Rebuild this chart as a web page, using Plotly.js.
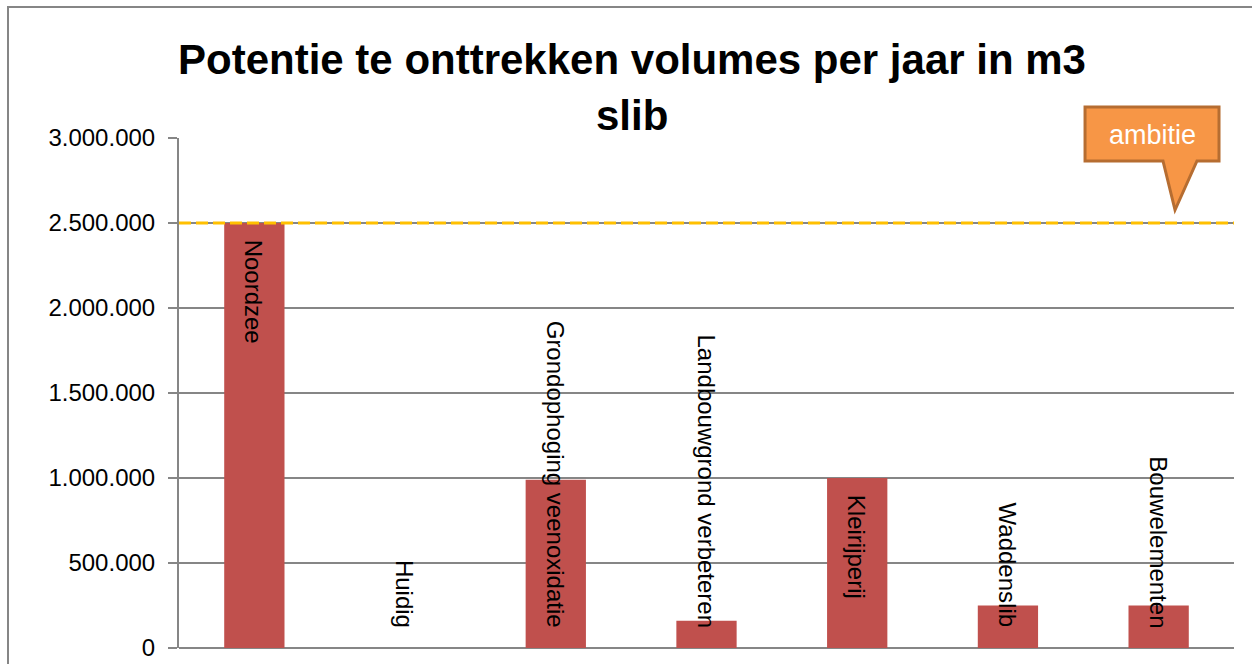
<!DOCTYPE html>
<html>
<head>
<meta charset="utf-8">
<script src="https://cdn.plot.ly/plotly-3.0.1.min.js"></script>
<style>
  html, body { margin: 0; padding: 0; background: #fff; overflow: hidden; }
  #chart { position: absolute; left: 0; top: 0; width: 1252px; height: 664px; }
  #frame { position: absolute; left: 7px; top: 6px; width: 1300px; height: 700px;
           border-left: 2px solid #868686; border-top: 2px solid #868686; pointer-events: none; }
</style>
</head>
<body>
<div id="chart"></div>
<div id="frame"></div>
<script>
// ---- data ----
const categories = ["Noordzee", "Huidig", "Grondophoging veenoxidatie", "Landbouwgrond verbeteren",
                    "Kleirijperij", "Waddenslib", "Bouwelementen"];
const volumes = [2500000, 0, 990000, 160000, 1000000, 250000, 250000];
const ambition = 2500000;
const ambitionLabel = "ambitie";
const titleLine1 = "Potentie te onttrekken volumes per jaar in m3";
const titleLine2 = "slib";
const yTicks = [0, 500000, 1000000, 1500000, 2000000, 2500000, 3000000];

// ---- layout geometry ----
const W = 1252, H = 664;
const margin = {l: 179, r: 18, t: 138, b: 16};
const plotW = W - margin.l - margin.r;
const plotH = H - margin.t - margin.b;
const yMax = 3000000;
const unitPerPx = yMax / plotH;
const fam = '"Liberation Sans", Arial, sans-serif';
const labelFont = '24px "Liberation Sans", Arial, sans-serif';

const ctx = document.createElement('canvas').getContext('2d');
ctx.font = labelFont;

const gray = '#868686';

// data labels (category names, rotated)
const annotations = categories.map((c, i) => {
  const len = ctx.measureText(c).width;
  const barPx = volumes[i] / unitPerPx;
  const fits = barPx - 15 - len >= 18;
  if (fits) {
    return {x: c, y: volumes[i], xref: 'x', yref: 'y', text: c, showarrow: false,
            textangle: 90, yanchor: 'top', xanchor: 'center', yshift: -15,
            font: {family: fam, size: 24, color: '#000'}};
  }
  return {x: c, y: 0, xref: 'x', yref: 'y', text: c, showarrow: false,
          textangle: 90, yanchor: 'bottom', xanchor: 'center', yshift: 18,
          font: {family: fam, size: 24, color: '#000'}};
});

// second title line
annotations.push({
  text: titleLine2, xref: 'paper', yref: 'paper', x: (632 - margin.l) / plotW,
  y: (H - margin.b - 116) / plotH, xanchor: 'center', yanchor: 'middle', showarrow: false,
  font: {family: fam, size: 42, color: '#000', weight: 'bold'}
});

// callout text
annotations.push({
  text: ambitionLabel, xref: 'paper', yref: 'paper', x: (1152 - margin.l) / plotW,
  y: (H - margin.b - 135) / plotH,
  xanchor: 'center', yanchor: 'middle', showarrow: false,
  font: {family: fam, size: 27, color: '#fff'}
});

const shapes = [
  {type: 'line', xref: 'paper', yref: 'y', x0: 0, x1: 1, y0: ambition, y1: ambition,
   line: {color: '#FFC000', width: 3, dash: '12px,5px'}},
  {type: 'path', xref: 'paper', yref: 'paper',
   path: 'M 0.8588,1.0608 L 0.9858,1.0608 L 0.9858,0.9549 L 0.9649,0.9549 L 0.9441,0.8588 L 0.9327,0.9549 L 0.8588,0.9549 Z',
   fillcolor: '#F79646', line: {color: '#B66D31', width: 3}}
];

const trace = {
  type: 'bar', x: categories, y: volumes,
  marker: {color: '#C0504D', line: {width: 0}},
  hoverinfo: 'x+y'
};

const layout = {
  width: W, height: H,
  margin: margin,
  paper_bgcolor: '#fff', plot_bgcolor: '#fff',
  separators: ',.',
  showlegend: false,
  bargap: 0.6,
  title: {text: titleLine1, x: 632 / W, xanchor: 'center', y: 1 - 59 / H, yanchor: 'middle',
          xref: 'container', yref: 'container',
          font: {family: fam, size: 42, color: '#000', weight: 'bold'}},
  xaxis: {type: 'category', showticklabels: false, showgrid: false, zeroline: false,
          showline: false, ticks: '', fixedrange: true},
  yaxis: {range: [0, yMax], tickvals: yTicks, tickformat: ',d', showgrid: true,
          gridcolor: gray, gridwidth: 2, zeroline: true, zerolinecolor: gray, zerolinewidth: 2,
          showline: true, linecolor: gray, linewidth: 2, ticks: 'outside', ticklen: 9,
          tickwidth: 2, tickcolor: gray, ticklabelstandoff: 8,
          tickfont: {family: fam, size: 24, color: '#000'},
          fixedrange: true},
  annotations: annotations,
  shapes: shapes
};

Plotly.newPlot('chart', [trace], layout, {displayModeBar: false, staticPlot: true});
</script>
</body>
</html>
